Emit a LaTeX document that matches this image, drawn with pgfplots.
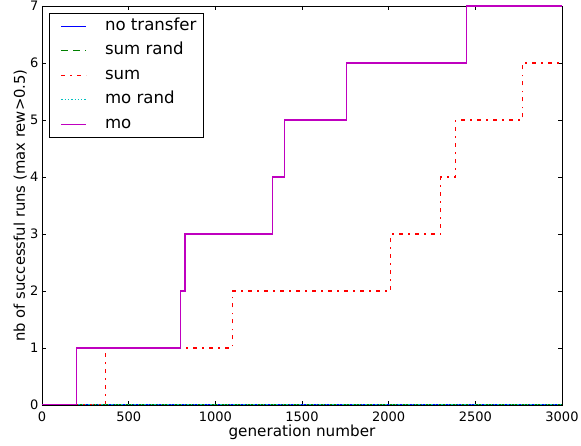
\documentclass[border=0pt]{standalone}
\usepackage{pgfplots}
\pgfplotsset{compat=1.18}
\usepackage{fontspec}
\setmainfont{DejaVu Sans}
\definecolor{mplb}{rgb}{0,0,1}
\definecolor{mplg}{rgb}{0,0.5,0}
\definecolor{mplr}{rgb}{1,0,0}
\definecolor{mplc}{rgb}{0,0.75,0.75}
\definecolor{mplm}{rgb}{0.75,0,0.75}
\begin{document}
\begin{tikzpicture}
\begin{axis}[
  scale only axis, width=520pt, height=399pt,
  xmin=0, xmax=3000, ymin=0, ymax=7,
  xtick={0,500,1000,1500,2000,2500,3000}, ytick={0,1,2,3,4,5,6,7},
  scaled x ticks=false,
  xticklabel style={/pgf/number format/1000 sep={}},
  /pgf/number format/assume math mode=true,
  tick align=inside, major tick length=4pt,
  tick style={black, line width=0.8pt},
  axis line style={line width=0.9pt},
  ticklabel style={font=\fontsize{13}{15}\selectfont},
  xticklabel style={yshift=-3pt},
  xlabel={generation number},
  ylabel={nb of successful runs (max rew>0.5)},
  every axis x label/.style={at={(rel axis cs:0.5,0)}, anchor=base, yshift=-32pt, font=\fontsize{15.2}{17}\selectfont},
  every axis y label/.style={at={(rel axis cs:0,0.5)}, anchor=base, rotate=90, yshift=17pt, font=\fontsize{14.8}{17}\selectfont},
  legend cell align=left,
  legend style={at={(rel axis cs:0,1)}, anchor=north west, xshift=7pt, yshift=-7pt,
    draw=black, line width=0.8pt, inner xsep=7pt, inner ysep=5pt,
    row sep=8.5pt, font=\fontsize{16.6}{19}\selectfont,
    nodes={inner sep=0pt, text height=12pt, text depth=4pt}},
  legend image code/.code={\path[draw=none,fill=none] (0pt,0pt) (48.6pt,0pt); \draw[#1] (5pt,0pt) -- (30pt,0pt);},
  every axis plot/.append style={line width=1.1pt, line cap=butt},
]
\addplot[color=mplb, solid, const plot] coordinates {(0,0) (3000,0)};
\addlegendentry{no transfer}
\addplot[color=mplg, dash pattern=on 7pt off 5pt, const plot] coordinates {(0,0) (3000,0)};
\addlegendentry{sum rand}
\addplot[color=mplr, dash pattern=on 4pt off 5pt on 1.5pt off 5.5pt, const plot] coordinates {
(0,0) (367,1) (1098,2) (2012,3) (2300,4) (2388,5) (2771,6) (3000,6)};
\addlegendentry{sum}
\addplot[color=mplc, dash pattern=on 1.3pt off 2pt, const plot] coordinates {(0,0) (3000,0)};
\addlegendentry{mo rand}
\addplot[color=mplm, solid, const plot] coordinates {
(0,0) (200,1) (800,2) (825,3) (1330,4) (1400,5) (1758,6) (2450,7) (3000,7)};
\addlegendentry{mo}
\end{axis}
\pgfresetboundingbox
\path ([xshift=-42pt,yshift=-41pt]current axis.south west) rectangle ([xshift=19pt,yshift=6pt]current axis.north east);
\end{tikzpicture}
\end{document}
